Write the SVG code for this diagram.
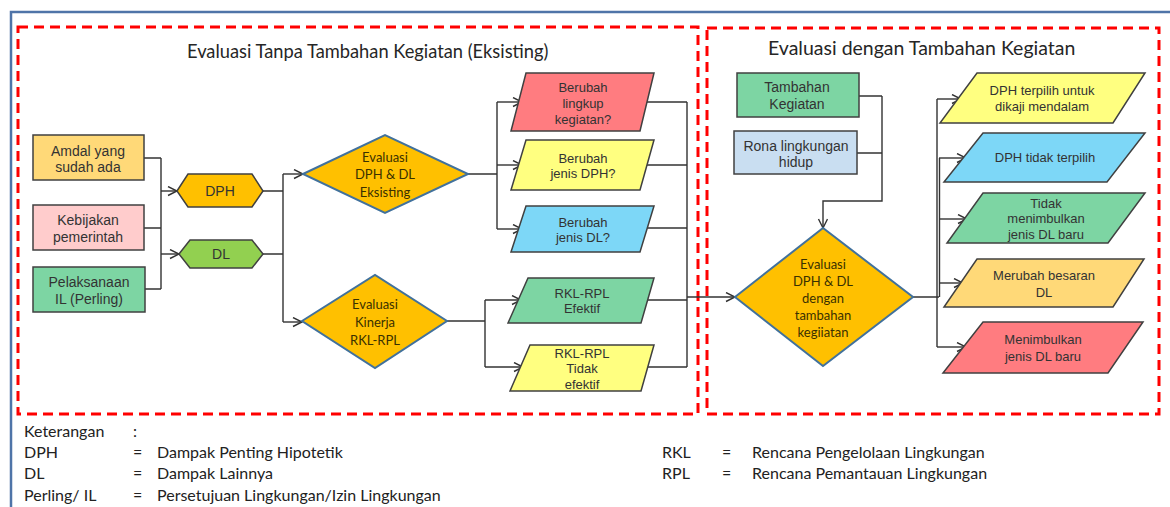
<svg xmlns="http://www.w3.org/2000/svg" width="1170" height="507" viewBox="0 0 1170 507">
<defs>
<marker id="arr" markerUnits="userSpaceOnUse" markerWidth="12" markerHeight="12" refX="10" refY="5" orient="auto">
<path d="M1,0.5 L10,5 L1,9.5" fill="none" stroke="#333" stroke-width="1.4"/>
</marker>
</defs>
<style>
.frame{fill:none;stroke:#4F74A8;stroke-width:2.5}
.zone{fill:none;stroke:#FF0000;stroke-width:3;stroke-dasharray:10 6}
.title{font-family:Lato,"Open Sans",sans-serif;font-size:18px;fill:#262626}
.box{stroke:#404040;stroke-width:1.5}
.dia{fill:#FFC000;stroke:#41719C;stroke-width:2}
.t14{font-family:"Liberation Sans",Arial,sans-serif;font-size:14px;fill:#333;text-anchor:middle}
.t13{font-family:"Liberation Sans",Arial,sans-serif;font-size:13px;fill:#333;text-anchor:middle}
.td{font-family:Lato,"Open Sans",sans-serif;font-size:13px;fill:#3a3000;text-anchor:middle}
.leg{font-family:Lato,"Open Sans",sans-serif;font-size:16px;fill:#222}
.c{fill:none;stroke:#333;stroke-width:1.4}
.ca{fill:none;stroke:#333;stroke-width:1.4;marker-end:url(#arr)}
</style>
<rect width="1170" height="507" fill="#fff"/>
<path class="frame" d="M11,507 V12 H1170"/>
<rect class="zone" x="18" y="27" width="680" height="387"/>
<rect class="zone" x="707" y="28" width="452" height="386"/>
<text class="title" x="187" y="58" style="font-size:18.3px">Evaluasi Tanpa Tambahan Kegiatan (Eksisting)</text>
<text class="title" x="768" y="55" style="font-size:19.5px">Evaluasi dengan Tambahan Kegiatan</text>

<g id="connectors">
<path class="c" d="M144,158 H161 M144,228 H161 M145,289 H161 M161,158 V289"/>
<path class="ca" d="M161,191 H177"/>
<path class="ca" d="M161,254 H179"/>
<path class="c" d="M263,191 H283 M263,254 H283 M283,174 V322"/>
<path class="ca" d="M283,174 H303"/>
<path class="ca" d="M283,322 H302"/>
<path class="c" d="M468,174 H497 M497,102 V229"/>
<path class="ca" d="M497,102 H522"/>
<path class="ca" d="M497,165 H522"/>
<path class="ca" d="M497,229 H522"/>
<path class="c" d="M647,102 H687 M647,165 H687 M647,228 H687 M687,102 V367"/>
<path class="c" d="M447,321 H485 M485,300 V367"/>
<path class="ca" d="M485,300 H521"/>
<path class="ca" d="M485,367 H523"/>
<path class="c" d="M648,300 H687 M648,367 H687"/>
<path class="ca" d="M687,297 H735"/>
<path class="c" d="M859,96 H882 M857,153 H882"/>
<path class="ca" d="M882,96 V201 H823 V228"/>
<path class="c" d="M913,297 H939 M937,99 V347 M939.5,158 V297"/>
<path class="ca" d="M937,99 H961"/>
<path class="ca" d="M939,158 H966"/>
<path class="ca" d="M939,219 H967"/>
<path class="ca" d="M939,283 H963"/>
<path class="ca" d="M937,347 H966"/>
</g>

<g id="amdal"><rect class="box" x="33" y="135" width="111" height="45" fill="#FFD978"/>
<text class="t14" x="88" y="156">Amdal yang</text><text class="t14" x="88" y="172">sudah ada</text></g>
<g id="kebijakan"><rect class="box" x="33" y="205" width="111" height="45" fill="#FFCCCC"/>
<text class="t14" x="88" y="225">Kebijakan</text><text class="t14" x="88" y="242">pemerintah</text></g>
<g id="pelaksanaan"><rect class="box" x="33" y="267" width="112" height="45" fill="#7DD5A3"/>
<text class="t14" x="89" y="287">Pelaksanaan</text><text class="t14" x="89" y="304">IL (Perling)</text></g>

<g id="dph"><polygon class="box" points="177,191 188,174 252,174 263,191 252,207 188,207" fill="#FFC000"/>
<text class="t14" x="220" y="196">DPH</text></g>
<g id="dl"><polygon class="box" points="179,254 190,240 252,240 263,254 252,268 190,268" fill="#92D050"/>
<text class="t14" x="221" y="259">DL</text></g>

<g id="eval-eksisting"><polygon class="dia" points="303,174 385,135 468,174 385,213"/>
<text class="td" x="385" y="162">Evaluasi</text><text class="td" x="385" y="179">DPH &amp; DL</text><text class="td" x="385" y="197">Eksisting</text></g>
<g id="eval-kinerja"><polygon class="dia" points="302,321 375,275 447,321 375,368"/>
<text class="td" x="375" y="309">Evaluasi</text><text class="td" x="375" y="327">Kinerja</text><text class="td" x="375" y="345">RKL-RPL</text></g>

<g id="berubah-lingkup"><polygon class="box" points="526,73 654,73 640,131 511,131" fill="#FF7C80"/>
<text class="t13" x="583" y="92">Berubah</text><text class="t13" x="583" y="108">lingkup</text><text class="t13" x="583" y="124">kegiatan?</text></g>
<g id="berubah-dph"><polygon class="box" points="526,140 654,140 640,190 511,190" fill="#FFFF80"/>
<text class="t13" x="583" y="163">Berubah</text><text class="t13" x="583" y="178">jenis DPH?</text></g>
<g id="berubah-dl"><polygon class="box" points="526,206 654,206 640,252 511,252" fill="#7DD7F7"/>
<text class="t13" x="583" y="227">Berubah</text><text class="t13" x="583" y="242">jenis DL?</text></g>
<g id="rkl-efektif"><polygon class="box" points="528,278 654,278 641,323 508,323" fill="#7DD5A3"/>
<text class="t13" x="582" y="298">RKL-RPL</text><text class="t13" x="582" y="313">Efektif</text></g>
<g id="rkl-tidak"><polygon class="box" points="530,345 654,345 641,391 510,391" fill="#FFFF80"/>
<text class="t13" x="582" y="358">RKL-RPL</text><text class="t13" x="582" y="373">Tidak</text><text class="t13" x="582" y="389">efektif</text></g>

<g id="tambahan"><rect class="box" x="737" y="73" width="122" height="44" fill="#7DD5A3"/>
<text class="t14" x="797" y="92">Tambahan</text><text class="t14" x="797" y="109">Kegiatan</text></g>
<g id="rona"><rect class="box" x="734" y="131" width="123" height="43" fill="#C9DEF1"/>
<text class="t14" x="796" y="151">Rona lingkungan</text><text class="t14" x="796" y="167">hidup</text></g>

<g id="eval-tambahan"><polygon class="dia" points="735,297 823,228 913,297 823,366"/>
<text class="td" x="823" y="269">Evaluasi</text><text class="td" x="823" y="286">DPH &amp; DL</text><text class="td" x="823" y="303">dengan</text><text class="td" x="823" y="320">tambahan</text><text class="td" x="823" y="337">kegiiatan</text></g>

<g id="dph-terpilih"><polygon class="box" points="977,73 1145,73 1113,123 940,123" fill="#FFFF80"/>
<text class="t13" x="1042" y="95">DPH terpilih untuk</text><text class="t13" x="1042" y="111">dikaji mendalam</text></g>
<g id="dph-tidak"><polygon class="box" points="983,133 1145,133 1107,182 944,182" fill="#7DD7F7"/>
<text class="t13" x="1045" y="162">DPH tidak terpilih</text></g>
<g id="tidak-menimbulkan"><polygon class="box" points="983,193 1145,193 1108,243 947,243" fill="#7DD5A3"/>
<text class="t13" x="1046" y="208">Tidak</text><text class="t13" x="1046" y="223">menimbulkan</text><text class="t13" x="1046" y="239">jenis DL baru</text></g>
<g id="merubah"><polygon class="box" points="977,259 1144,259 1113,307 944,307" fill="#FFD978"/>
<text class="t13" x="1044" y="280">Merubah besaran</text><text class="t13" x="1044" y="297">DL</text></g>
<g id="menimbulkan"><polygon class="box" points="983,322 1143,322 1108,373 943,373" fill="#FF7C80"/>
<text class="t13" x="1043" y="344">Menimbulkan</text><text class="t13" x="1043" y="361">jenis DL baru</text></g>

<g id="legend">
<text class="leg" x="24" y="437">Keterangan</text><text class="leg" x="133" y="437">:</text>
<text class="leg" x="24" y="458">DPH</text><text class="leg" x="133" y="458">=</text><text class="leg" x="157" y="458">Dampak Penting Hipotetik</text>
<text class="leg" x="24" y="479">DL</text><text class="leg" x="133" y="479">=</text><text class="leg" x="157" y="479">Dampak Lainnya</text>
<text class="leg" x="24" y="501">Perling/ IL</text><text class="leg" x="133" y="501">=</text><text class="leg" x="157" y="501">Persetujuan Lingkungan/Izin Lingkungan</text>
<text class="leg" x="662" y="458">RKL</text><text class="leg" x="722" y="458">=</text><text class="leg" x="752" y="458">Rencana Pengelolaan Lingkungan</text>
<text class="leg" x="662" y="479">RPL</text><text class="leg" x="722" y="479">=</text><text class="leg" x="752" y="479">Rencana Pemantauan Lingkungan</text>
</g>
</svg>
